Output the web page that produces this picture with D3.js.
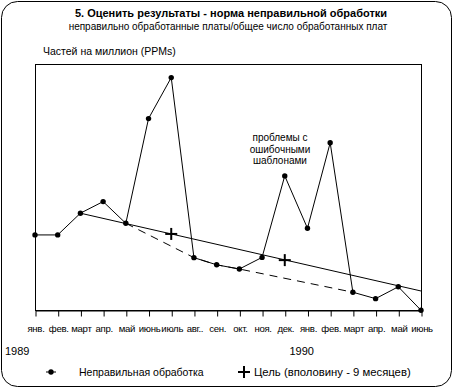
<!DOCTYPE html>
<html>
<head>
<meta charset="utf-8">
<script src="https://cdn.jsdelivr.net/npm/d3@7"></script>
<style>
  body { margin: 0; background: #fff; }
  svg text { font-family: Arial, "Liberation Sans", sans-serif; fill: #000; }
</style>
</head>
<body>
<svg id="chart" width="454" height="389"></svg>
<script>
const months = ['янв.', 'фев.', 'март', 'апр.', 'май', 'июнь', 'июль', 'авг..', 'сен.',
    'окт.', 'ноя.', 'дек.', 'янв.', 'фев.', 'март', 'апр.', 'май', 'июнь'];
const yearLabels = [{ idx: 0, text: '1989' }, { idx: 12, text: '1990' }];

// PPM values (approx)
const defects = [30.8, 30.8, 39.6, 44.3, 35.5, 77.9, 94.5, 21.6, 18.7,
    17.0, 21.7, 54.7, 33.5, 68.1, 7.6, 5.0, 9.8, 0.3];

// trend line, dashed "ideal" path and targets (month index, value)
const trend = [[2, 39.6], [17, 8.1]];
const dashed = [[4, 35.5], [7, 21.6], [8, 18.7], [9, 17.0], [14, 7.6]];
const targets = [[6, 31.2], [11, 20.6]];

const annotation = ['проблемы с', 'ошибочными', 'шаблонами'];

const svg = d3.select('#chart');

// outer rounded frame
svg.append('rect')
    .attr('x', 1.5).attr('y', 1.5)
    .attr('width', 450).attr('height', 385)
    .attr('rx', 16).attr('ry', 16)
    .attr('fill', 'none').attr('stroke', '#000').attr('stroke-width', 1);

svg.append('text')
    .attr('x', 231).attr('y', 17)
    .attr('text-anchor', 'middle')
    .attr('font-size', '11px').attr('font-weight', 'bold')
    .text('5. Оценить результаты - норма неправильной обработки');

svg.append('text')
    .attr('x', 228).attr('y', 30)
    .attr('text-anchor', 'middle')
    .attr('font-size', '10px')
    .text('неправильно обработанные платы/общее число обработанных плат');

svg.append('text')
    .attr('x', 43).attr('y', 55)
    .attr('font-size', '10.5px')
    .text('Частей на миллион (PPMs)');

const x = d3.scalePoint()
    .domain(d3.range(months.length))
    .range([35, 421]);

const y = d3.scaleLinear()
    .domain([0, 100])
    .range([311, 64]);

// plot box
svg.append('rect')
    .attr('x', 35.5).attr('y', 64.5)
    .attr('width', 386).attr('height', 246)
    .attr('fill', 'none').attr('stroke', '#000').attr('stroke-width', 1);

// x axis
const xAxis = d3.axisBottom(x)
    .tickSize(6)
    .tickSizeOuter(0)
    .tickFormat(i => months[i]);

const gx = svg.append('g')
    .attr('transform', 'translate(0.5,310.5)')
    .call(xAxis);
gx.select('.domain').attr('stroke', '#000');
gx.selectAll('.tick line').attr('stroke', '#000');
gx.selectAll('.tick text')
    .attr('y', 15)
    .attr('font-family', 'Arial, "Liberation Sans", sans-serif')
    .attr('font-size', '9.6px')
    .attr('letter-spacing', '-0.3px')
    .attr('fill', '#000');

svg.selectAll('.year')
    .data(yearLabels)
    .join('text')
    .attr('class', 'year')
    .attr('x', d => d.idx === 0 ? 5 : x(d.idx) - 18)
    .attr('y', 355)
    .attr('font-family', '"DejaVu Sans", sans-serif')
    .attr('font-size', '11px')
    .text(d => d.text);

const line = d3.line()
    .x(d => x(d[0]))
    .y(d => y(d[1]));

// trend
svg.append('path')
    .datum(trend)
    .attr('d', line)
    .attr('fill', 'none').attr('stroke', '#000').attr('stroke-width', 1);

// dashed path
svg.append('path')
    .datum(dashed)
    .attr('d', line)
    .attr('fill', 'none').attr('stroke', '#000').attr('stroke-width', 1)
    .attr('stroke-dasharray', '8,6');

// data line
const series = defects.map((v, i) => [i, v]);
svg.append('path')
    .datum(series)
    .attr('d', line)
    .attr('fill', 'none').attr('stroke', '#000').attr('stroke-width', 1);

svg.selectAll('.dot')
    .data(series)
    .join('circle')
    .attr('class', 'dot')
    .attr('cx', d => x(d[0]))
    .attr('cy', d => y(d[1]))
    .attr('r', 2.7)
    .attr('fill', '#000');

// target crosses
const cross = svg.selectAll('.cross')
    .data(targets)
    .join('g')
    .attr('class', 'cross')
    .attr('transform', d => `translate(${x(d[0])},${y(d[1])})`);
cross.append('line').attr('x1', -6).attr('x2', 6).attr('stroke', '#000').attr('stroke-width', 2);
cross.append('line').attr('y1', -6).attr('y2', 6).attr('stroke', '#000').attr('stroke-width', 2);

// annotation
svg.selectAll('.note')
    .data(annotation)
    .join('text')
    .attr('class', 'note')
    .attr('x', 280)
    .attr('y', (d, i) => 141 + i * 11.5)
    .attr('text-anchor', 'middle')
    .attr('font-size', '10px')
    .text(d => d);

// legend
const legend = svg.append('g').attr('transform', 'translate(0,372)');
legend.append('line')
    .attr('x1', 46).attr('x2', 56)
    .attr('stroke', '#000');
legend.append('circle')
    .attr('cx', 51).attr('r', 2.7).attr('fill', '#000');
legend.append('text')
    .attr('x', 79).attr('y', 4)
    .attr('font-size', '10.5px')
    .text('Неправильная обработка');

legend.append('line').attr('x1', 238).attr('x2', 250).attr('stroke', '#000').attr('stroke-width', 2);
legend.append('line').attr('x1', 244).attr('x2', 244).attr('y1', -6).attr('y2', 6).attr('stroke', '#000').attr('stroke-width', 2);
legend.append('text')
    .attr('x', 254).attr('y', 4)
    .attr('font-size', '11.3px')
    .text('Цель (вполовину - 9 месяцев)');
</script>
</body>
</html>
